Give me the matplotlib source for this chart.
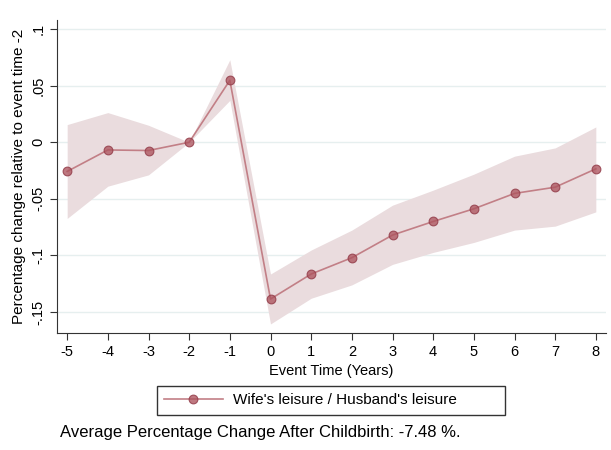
import numpy as np
import matplotlib.pyplot as plt
from matplotlib.patches import Rectangle

plt.rcParams['font.family'] = ['Liberation Sans', 'DejaVu Sans']

# Event-study estimates and 95% bands
event_time = [-5, -4, -3, -2, -1, 0, 1, 2, 3, 4, 5, 6, 7, 8]
coef = [-0.0258, -0.0068, -0.0073, 0.0, 0.0547, -0.1385, -0.1164,
        -0.1020, -0.0820, -0.0700, -0.0588, -0.0452, -0.0397, -0.0235]
ci_upper = [0.0156, 0.0262, 0.0150, 0.0, 0.0729, -0.1164, -0.0952,
            -0.0776, -0.0556, -0.0423, -0.0282, -0.0123, -0.0050, 0.0135]
ci_lower = [-0.0673, -0.0388, -0.0288, 0.0, 0.0370, -0.1605, -0.1378,
            -0.1260, -0.1079, -0.0973, -0.0885, -0.0776, -0.0741, -0.0615]
yticks = [-0.15, -0.1, -0.05, 0, 0.05, 0.1]
ytick_labels = ['-.15', '-.1', '-.05', '0', '.05', '.1']
series_label = "Wife's leisure / Husband's leisure"
avg_change = -7.48

W, H = 611, 450
fig = plt.figure(figsize=(W / 100, H / 100), dpi=100)
ax = fig.add_axes([57/W, 1 - 333/H, (606 - 57)/W, (333 - 20)/H])

ax.fill_between(event_time, ci_lower, ci_upper, color='#eadcde', lw=0, zorder=1)
ax.plot(event_time, coef, color='#c27f86', lw=1.2, marker='o', ms=6.3,
        mfc=(0.68, 0.33, 0.37, 0.78), mec=(0.58, 0.24, 0.29, 0.85), mew=0.8,
        zorder=3, label=series_label)

ax.set_xlim(-5.25, 8.25)
ax.set_ylim(-0.1685, 0.108)
ax.set_xticks(event_time)
ax.set_xticklabels([str(t) for t in event_time])
ax.set_yticks(yticks)
ax.set_yticklabels(ytick_labels, rotation=90, va='center')
ax.yaxis.grid(True, color='#e6efef', lw=1)
ax.set_axisbelow(True)

for side in ['top', 'right']:
    ax.spines[side].set_visible(False)
for side in ['left', 'bottom']:
    ax.spines[side].set_color('#333333')
ax.tick_params(direction='out', length=5, color='#333333', labelsize=10.5)

ax.set_xlabel('Event Time (Years)', fontsize=10.5, labelpad=3.5)
ax.set_ylabel('Percentage change relative to event time -2', fontsize=11, labelpad=4)

# legend below the axes, with a wide Stata-style box
leg = fig.legend(loc='center left', bbox_to_anchor=(164/W, 1 - 400.5/H), fontsize=11,
                 frameon=False, borderpad=0, borderaxespad=0,
                 handlelength=3.86, handletextpad=0.65)
fig.add_artist(Rectangle((157/W, 1 - 414.5/H), (505 - 157)/W, 28.5/H,
                         transform=fig.transFigure, fill=False,
                         edgecolor='#333333', lw=1))

fig.text(60/W, 1 - 432/H,
         f'Average Percentage Change After Childbirth: {avg_change:.2f} %.',
         fontsize=12, va='center', ha='left')

fig.savefig('out.png', dpi=100)
